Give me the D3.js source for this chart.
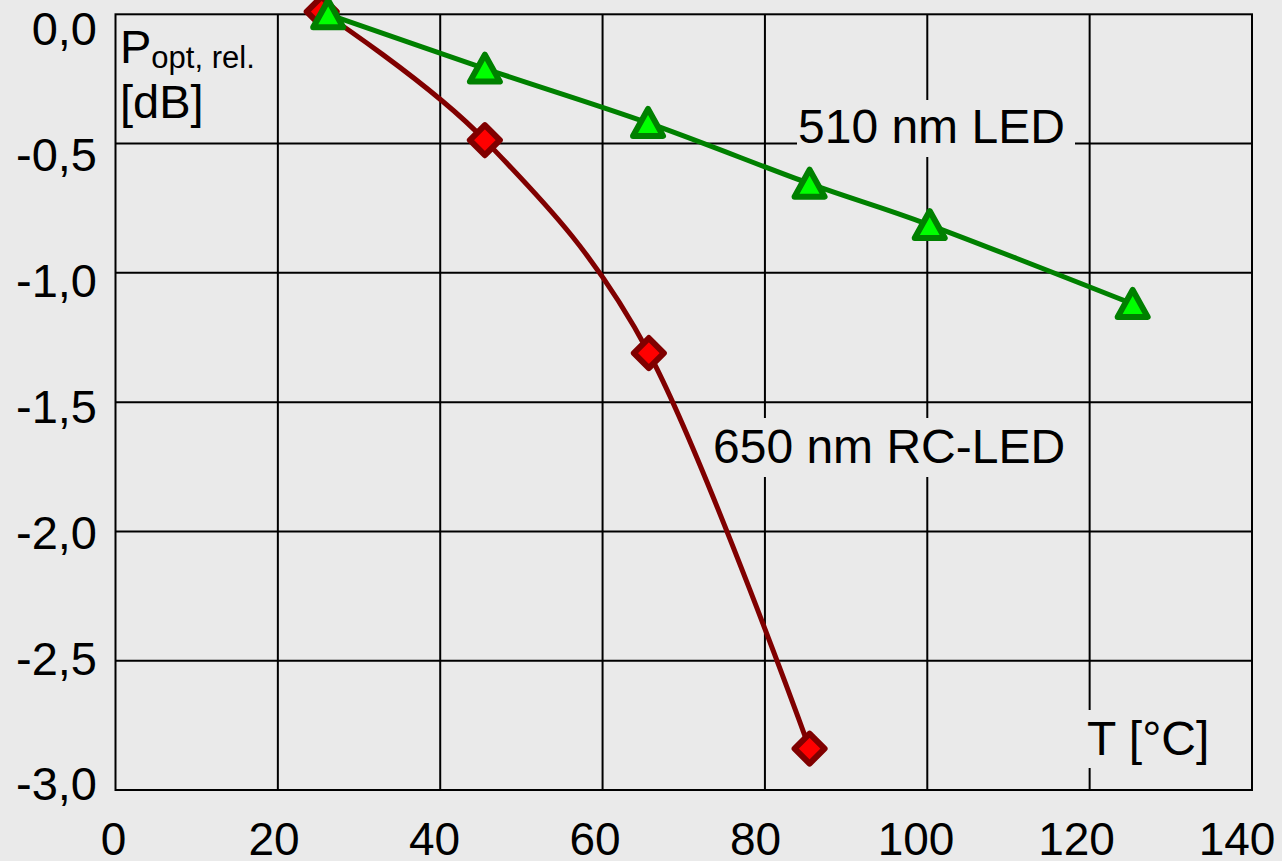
<!DOCTYPE html>
<html>
<head>
<meta charset="utf-8">
<script src="https://cdn.jsdelivr.net/npm/d3@7"></script>
<style>
  html, body { margin: 0; padding: 0; background: #eaeaea; }
  svg { display: block; }
  text { font-family: "Liberation Sans", Arial, sans-serif; fill: #000; }
</style>
</head>
<body>
<div id="chart"></div>
<script>
// data
var xTicks = [0, 20, 40, 60, 80, 100, 120, 140];
var yTicks = [0, -0.5, -1, -1.5, -2, -2.5, -3];
var yTickLabels = ["0,0", "-0,5", "-1,0", "-1,5", "-2,0", "-2,5", "-3,0"];

var ledT = [26.2, 45.5, 65.6, 85.5, 100.3, 125.3];
var ledP = [0.0, -0.21, -0.42, -0.655, -0.815, -1.12];

var rcT = [25.4, 45.5, 65.7, 85.5];
var rcP = [0.01, -0.487, -1.31, -2.84];

var labelLed = "510 nm LED";
var labelRc = "650 nm RC-LED";
var labelX = "T [°C]";

var width = 1282, height = 861, fs = 46, fsNote = 48;

var svg = d3.select("#chart").append("svg")
    .attr("width", width)
    .attr("height", height);

svg.append("rect").attr("width", width).attr("height", height).attr("fill", "#eaeaea");

var x = d3.scaleLinear().domain([0, 140]).range([115.5, 1252]);
var y = d3.scaleLinear().domain([0, -3]).range([14.3, 790]);
// tick labels sit on a slightly tighter spacing than the grid
var xl = d3.scaleLinear().domain([0, 140]).range([113.5, 1237]);
var yl = d3.scaleLinear().domain([0, -3]).range([29, 784]);

var grid = svg.append("g");
grid.selectAll(".vx")
    .data(xTicks.slice(1, -1))
    .enter().append("line")
    .attr("x1", d => x(d)).attr("x2", d => x(d))
    .attr("y1", y(0)).attr("y2", y(-3))
    .attr("stroke", "#000").attr("stroke-width", 2);
grid.selectAll(".hy")
    .data(yTicks.slice(1, -1))
    .enter().append("line")
    .attr("x1", x(0)).attr("x2", x(140))
    .attr("y1", d => y(d)).attr("y2", d => y(d))
    .attr("stroke", "#000").attr("stroke-width", 2);
grid.append("rect")
    .attr("x", x(0)).attr("y", y(0))
    .attr("width", x(140) - x(0)).attr("height", y(-3) - y(0))
    .attr("fill", "none").attr("stroke", "#000").attr("stroke-width", 2);

// tick labels
svg.selectAll(".ylab")
    .data(yTicks)
    .enter().append("text")
    .attr("x", 97)
    .attr("y", d => yl(d))
    .attr("dy", "0.35em")
    .attr("text-anchor", "end")
    .attr("font-size", 47)
    .text((d, i) => yTickLabels[i]);

svg.selectAll(".xlab")
    .data(xTicks)
    .enter().append("text")
    .attr("x", d => xl(d))
    .attr("y", 855)
    .attr("text-anchor", "middle")
    .attr("font-size", fs)
    .text(d => d);

// label boxes hide the grid behind the texts
function boxedText(str, tx, ty, box) {
    svg.append("rect")
        .attr("x", box[0]).attr("y", box[1])
        .attr("width", box[2] - box[0]).attr("height", box[3] - box[1])
        .attr("fill", "#eaeaea");
    svg.append("text")
        .attr("x", tx).attr("y", ty)
        .attr("font-size", fsNote)
        .text(str);
}
boxedText(labelLed, 798, 143, [797, 100, 1075, 157]);
boxedText(labelRc, 713, 463, [711, 418, 1069, 477]);
boxedText(labelX, 1087, 755, [1085, 710, 1213, 768]);

// y axis title
var yt = svg.append("text").attr("x", 120).attr("y", 63).attr("font-size", 47);
yt.append("tspan").text("P");
yt.append("tspan").attr("font-size", 31).attr("dy", 5).text("opt, rel.");
svg.append("text").attr("x", 120).attr("y", 118).attr("font-size", 47).text("[dB]");

// series
var line = d3.line()
    .x(d => x(d[0]))
    .y(d => y(d[1]))
    .curve(d3.curveCardinal.tension(0));

var ledData = ledT.map((t, i) => [t, ledP[i]]);
var rcData = rcT.map((t, i) => [t, rcP[i]]);

svg.append("path")
    .attr("d", line(rcData))
    .attr("fill", "none")
    .attr("stroke", "#800000")
    .attr("stroke-width", 5);

svg.selectAll(".dia")
    .data(rcData)
    .enter().append("path")
    .attr("transform", d => "translate(" + x(d[0]) + "," + y(d[1]) + ")")
    .attr("d", "M0,-15L15,0L0,15L-15,0Z")
    .attr("fill", "#ff0000")
    .attr("stroke", "#800000")
    .attr("stroke-width", 6)
    .attr("stroke-linejoin", "round");

svg.append("path")
    .attr("d", line(ledData))
    .attr("fill", "none")
    .attr("stroke", "#008000")
    .attr("stroke-width", 5);

svg.selectAll(".tri")
    .data(ledData)
    .enter().append("path")
    .attr("transform", d => "translate(" + x(d[0]) + "," + y(d[1]) + ")")
    .attr("d", "M0,-14L15,13L-15,13Z")
    .attr("fill", "#00ff00")
    .attr("stroke", "#008000")
    .attr("stroke-width", 6)
    .attr("stroke-linejoin", "round");
</script>
</body>
</html>
